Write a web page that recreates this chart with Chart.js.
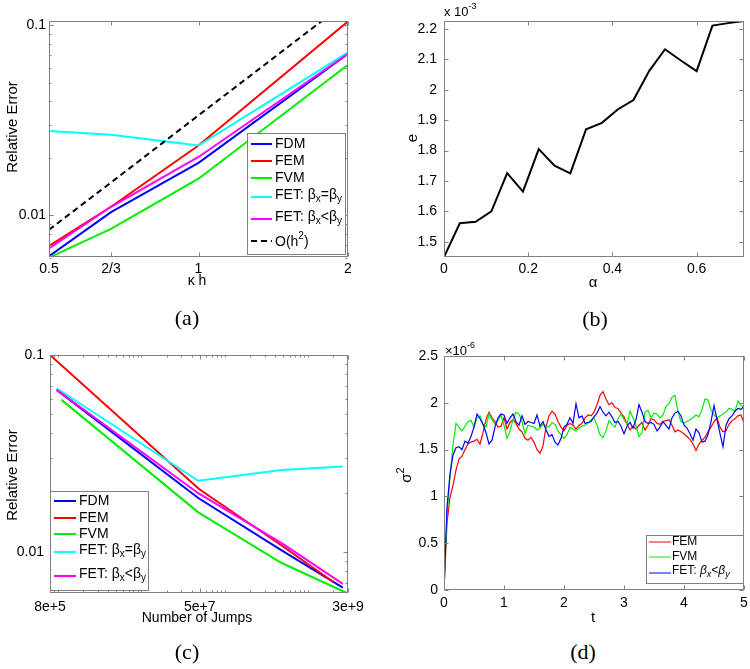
<!DOCTYPE html>
<html>
<head>
<meta charset="utf-8">
<script src="https://cdn.jsdelivr.net/npm/chart.js@4.4.1/dist/chart.umd.min.js"></script>
<style>
  body { margin: 0; background: #fff; width: 750px; height: 669px; position: relative; overflow: hidden; }
  canvas { position: absolute; }
  .cap { position: absolute; font-family: "Liberation Serif", serif; font-size: 22px; transform: translate(-50%, -50%); }
</style>
</head>
<body>
<canvas id="pa" width="375" height="300" style="left:0;top:0"></canvas>
<canvas id="pb" width="375" height="300" style="left:375px;top:0"></canvas>
<canvas id="pc" width="375" height="300" style="left:0;top:330px"></canvas>
<canvas id="pd" width="375" height="300" style="left:375px;top:330px"></canvas>
<div class="cap" style="left:187px;top:318px">(a)</div>
<div class="cap" style="left:595px;top:319px">(b)</div>
<div class="cap" style="left:187px;top:652px">(c)</div>
<div class="cap" style="left:583px;top:652px">(d)</div>
<script>
// (a) relative error vs kappa*h
const kh = [0.5, 2 / 3, 1, 2];
const khLabels = ['0.5', '2/3', '1', '2'];
const errFDMa = [0.0061, 0.0104, 0.0189, 0.0709];
const errFEMa = [0.0069, 0.0111, 0.0233, 0.1049];
const errFVMa = [0.0060, 0.0085, 0.0156, 0.0620];
const errFETeqa = [0.0278, 0.0266, 0.0233, 0.0720];
const errFETlta = [0.0067, 0.0111, 0.0203, 0.0709];
const orderH2 = [0.0084, 0.0149, 0.0336, 0.1344];
const errTicks = [0.01, 0.1];
const errLabels = ['0.01', '0.1'];

// (b) e (x1e-3) vs alpha
const alpha = [0, 0.0375, 0.075, 0.1125, 0.15, 0.1875, 0.225, 0.2625, 0.3, 0.3375,
  0.375, 0.4125, 0.45, 0.4875, 0.525, 0.5625, 0.6, 0.6375, 0.675, 0.7125];
const eAlpha = [1.450, 1.561, 1.566, 1.600, 1.726, 1.665, 1.805, 1.750, 1.725, 1.870,
  1.891, 1.935, 1.966, 2.062, 2.133, 2.096, 2.061, 2.211, 2.219, 2.226];
const alphaTicks = [0, 0.2, 0.4, 0.6];
const eTicks = [1.5, 1.6, 1.7, 1.8, 1.9, 2, 2.1, 2.2];

// (c) relative error vs number of jumps
const jumpsFDM = [9.6e5, 4.8e7, 4.8e8, 2.6e9];
const jumpsFEM = [7.8e5, 4.9e7, 4.8e8, 2.0e9];
const jumpsFVM = [1.1e6, 4.8e7, 4.8e8, 2.9e9];
const jumpsFETeq = [9.6e5, 4.8e7, 4.8e8, 2.6e9];
const jumpsFETlt = [9.6e5, 4.8e7, 4.8e8, 2.6e9];
const errFDMc = [0.0665, 0.0188, 0.0102, 0.0066];
const errFEMc = [0.101, 0.0209, 0.0108, 0.00705];
const errFVMc = [0.0592, 0.0159, 0.0088, 0.0062];
const errFETeqc = [0.0678, 0.0230, 0.0261, 0.0272];
const errFETltc = [0.0665, 0.0199, 0.0111, 0.0069];
const jumpTicks = [8e5, 5e7, 3e9];
const jumpLabels = ['8e+5', '5e+7', '3e+9'];

// (d) sigma^2 (x1e-6) vs t, sampled every 0.05
const dt = 0.05;
const sigFEM = [
  0, 0.72, 0.99, 1.12, 1.28, 1.40, 1.43, 1.50, 1.56, 1.58,
  1.59, 1.61, 1.56, 1.68, 1.82, 1.90, 1.84, 1.80, 1.74, 1.75,
  1.84, 1.72, 1.79, 1.82, 1.78, 1.72, 1.69, 1.62, 1.60, 1.63,
  1.58, 1.50, 1.46, 1.54, 1.74, 1.86, 1.91, 1.88, 1.80, 1.74,
  1.70, 1.76, 1.78, 1.76, 1.72, 1.76, 1.78, 1.84, 1.87, 1.86,
  1.90, 1.98, 2.08, 2.12, 2.04, 1.98, 2.00, 1.95, 1.94, 1.89,
  1.85, 1.77, 1.71, 1.75, 1.72, 1.76, 1.79, 1.71, 1.76, 1.83,
  1.82, 1.78, 1.77, 1.80, 1.81, 1.82, 1.76, 1.69, 1.71, 1.69,
  1.67, 1.64, 1.61, 1.56, 1.49, 1.56, 1.60, 1.63, 1.69, 1.74,
  1.80, 1.84, 1.74, 1.69, 1.70, 1.77, 1.81, 1.83, 1.86, 1.87,
  1.78];
const sigFVM = [
  0, 0.80, 1.20, 1.55, 1.78, 1.74, 1.70, 1.75, 1.80, 1.81,
  1.74, 1.84, 1.86, 1.77, 1.74, 1.88, 1.82, 1.77, 1.81, 1.87,
  1.76, 1.62, 1.70, 1.82, 1.90, 1.88, 1.80, 1.67, 1.76, 1.75,
  1.74, 1.71, 1.73, 1.77, 1.75, 1.74, 1.79, 1.77, 1.70, 1.66,
  1.62, 1.66, 1.74, 1.72, 1.70, 1.73, 1.75, 1.76, 1.78, 1.82,
  1.84, 1.76, 1.66, 1.63, 1.70, 1.81, 1.77, 1.74, 1.83, 1.88,
  1.82, 1.77, 1.91, 1.84, 1.76, 1.64, 1.68, 1.90, 1.92, 1.84,
  1.89, 1.88, 1.84, 1.87, 1.96, 1.99, 2.06, 2.08, 1.90, 1.80,
  1.78, 1.80, 1.82, 1.84, 1.87, 1.85, 1.93, 2.04, 2.03, 1.92,
  1.87, 1.84, 1.86, 1.88, 1.90, 1.94, 1.93, 1.91, 2.02, 1.97,
  1.95];
const sigFET = [
  0, 0.88, 1.24, 1.44, 1.52, 1.53, 1.50, 1.59, 1.57, 1.64,
  1.74, 1.88, 1.83, 1.77, 1.68, 1.56, 1.60, 1.74, 1.84, 1.88,
  1.87, 1.78, 1.84, 1.88, 1.80, 1.76, 1.86, 1.77, 1.80, 1.79,
  1.78, 1.87, 1.75, 1.80, 1.71, 1.64, 1.66, 1.58, 1.55, 1.62,
  1.74, 1.77, 1.84, 1.78, 1.99, 1.84, 1.86, 1.78, 1.79, 1.80,
  1.85, 1.89, 1.96, 1.90, 1.86, 1.90, 1.85, 1.79, 1.80, 1.75,
  1.67, 1.75, 1.79, 1.73, 1.82, 1.98, 1.90, 1.80, 1.78, 1.79,
  1.77, 1.70, 1.74, 1.80, 1.76, 1.72, 1.84, 1.89, 1.91, 1.86,
  1.76, 1.73, 1.67, 1.60, 1.72, 1.68, 1.58, 1.59, 1.66, 1.80,
  1.97, 1.82, 1.67, 1.53, 1.76, 1.83, 1.86, 1.91, 1.94, 1.93,
  1.96];
const tTicks = [0, 1, 2, 3, 4, 5];
const sigTicks = [0, 0.5, 1, 1.5, 2, 2.5];

const FAMILY = '"Liberation Sans", Arial, sans-serif';
const AXIS_GRAY = '#808080';

Chart.defaults.font.family = FAMILY;
Chart.defaults.font.size = 14;
Chart.defaults.color = '#000';
Chart.defaults.animation = false;
Chart.defaults.plugins.legend.display = false;
Chart.defaults.plugins.tooltip.enabled = false;
Chart.defaults.elements.point.radius = 0;
Chart.defaults.elements.line.tension = 0;

const pts = (xs, ys) => ys.map((y, i) => ({ x: xs[i], y }));
const timePts = ys => ys.map((y, i) => ({ x: i * dt, y }));

function axis(type, min, max, ticks, labels, size, pad, isX) {
  return {
    type, min, max,
    grid: { display: false, drawTicks: false }, border: { display: false },
    ticks: { autoSkip: false, maxRotation: 0, padding: pad, font: { size: 14 }, callback: (v, i) => labels[i] },
    afterBuildTicks: s => { s.ticks = ticks.map(v => ({ value: v })); },
    afterFit: s => {
      if (isX) { s.height = size; s.paddingLeft = 0; s.paddingRight = 0; }
      else { s.width = size; s.paddingTop = 0; s.paddingBottom = 0; }
    }
  };
}

// text with _x / ^x (or _{..}) sub/superscripts and $..$ italics
function segs(s) {
  const out = []; let it = false, i = 0, buf = '';
  const flush = () => { if (buf) out.push({ t: buf, m: 0, it }); buf = ''; };
  while (i < s.length) {
    const c = s[i];
    if (c === '$') { flush(); it = !it; i++; continue; }
    if (c === '_' || c === '^') {
      flush(); i++;
      let t;
      if (s[i] === '{') { const j = s.indexOf('}', i); t = s.slice(i + 1, j); i = j + 1; }
      else { t = s[i]; i++; }
      out.push({ t, m: c === '_' ? 1 : 2, it });
      continue;
    }
    buf += c; i++;
  }
  flush();
  return out;
}

function richText(ctx, s, x, y, size, align) {
  const parts = segs(s);
  const font = p => (p.it ? 'italic ' : '') + (p.m ? Math.round(size * 0.72) : size) + 'px ' + FAMILY;
  let w = 0;
  parts.forEach(p => { ctx.font = font(p); p.w = ctx.measureText(p.t).width; w += p.w; });
  let cx = align === 'center' ? x - w / 2 : align === 'right' ? x - w : x;
  ctx.textAlign = 'left';
  ctx.textBaseline = 'middle';
  parts.forEach(p => {
    ctx.font = font(p);
    const dy = p.m === 1 ? size * 0.32 : p.m === 2 ? -size * 0.42 : 0;
    ctx.fillText(p.t, cx, y + dy);
    cx += p.w;
  });
}

const extras = {};

// matlab-like boxed axes with inward ticks, legend box and labels
const matlabAxes = {
  id: 'matlabAxes',
  afterDatasetsDraw(chart) {
    const ex = extras[chart.canvas.id];
    const ctx = chart.ctx, a = chart.chartArea, xs = chart.scales.x, ys = chart.scales.y;
    const L = Math.round(a.left) + 0.5, R = Math.round(a.right) - 0.5;
    const T = Math.round(a.top) + 0.5, B = Math.round(a.bottom) - 0.5;
    ctx.save();
    ctx.strokeStyle = AXIS_GRAY;
    ctx.lineWidth = 1;
    ctx.beginPath();
    const xt = (vals, len) => vals.forEach(v => {
      const px = Math.round(xs.getPixelForValue(v)) + 0.5;
      ctx.moveTo(px, B); ctx.lineTo(px, B - len);
      ctx.moveTo(px, T); ctx.lineTo(px, T + len);
    });
    const yt = (vals, len) => vals.forEach(v => {
      const py = Math.round(ys.getPixelForValue(v)) + 0.5;
      ctx.moveTo(L, py); ctx.lineTo(L + len, py);
      ctx.moveTo(R, py); ctx.lineTo(R - len, py);
    });
    xt(xs.ticks.map(t => t.value), 4);
    yt(ys.ticks.map(t => t.value), 4);
    xt(ex.xMinor || [], 2);
    yt(ex.yMinor || [], 2);
    ctx.stroke();
    ctx.strokeRect(L, T, R - L, B - T);

    const lg = ex.legend;
    if (lg) {
      const [x1, y1, x2, y2] = lg.box;
      ctx.fillStyle = '#fff';
      ctx.fillRect(x1, y1, x2 - x1, y2 - y1);
      ctx.strokeStyle = AXIS_GRAY;
      ctx.lineWidth = 1;
      ctx.strokeRect(x1 + 0.5, y1 + 0.5, x2 - x1, y2 - y1);
      lg.items.forEach(it => {
        const ds = chart.data.datasets[it.ds];
        ctx.strokeStyle = ds.borderColor;
        ctx.lineWidth = lg.lw;
        ctx.setLineDash(ds.borderDash || []);
        ctx.beginPath();
        ctx.moveTo(lg.line[0], it.y); ctx.lineTo(lg.line[1], it.y);
        ctx.stroke();
        ctx.setLineDash([]);
        ctx.fillStyle = '#000';
        richText(ctx, ds.label, lg.tx, it.y + (it.dy || 0), lg.size, 'left');
      });
    }

    ctx.fillStyle = '#000';
    (ex.texts || []).forEach(t => {
      if (t.rot) {
        ctx.save();
        ctx.translate(t.x, t.y);
        ctx.rotate(-Math.PI / 2);
        richText(ctx, t.s, 0, 0, t.size, 'center');
        ctx.restore();
      } else {
        richText(ctx, t.s, t.x, t.y, t.size, t.align || 'center');
      }
    });
    ctx.restore();
  }
};

function logMinor(lo, hi, skip) {
  const out = [];
  for (let d = Math.pow(10, Math.floor(Math.log10(lo))); d <= hi; d *= 10) {
    for (let k = 1; k < 10; k++) {
      const v = k * d;
      if (v >= lo && v <= hi && !skip.some(s => Math.abs(s - v) / v < 1e-6)) out.push(v);
    }
  }
  return out;
}

function line(label, data, color, width, order, dash) {
  return { label, data, borderColor: color, borderWidth: width, order, borderDash: dash || [], fill: false };
}

// ---------- (a) ----------
extras.pa = {
  yMinor: logMinor(0.006, 0.106, errTicks),
  legend: {
    box: [247, 133, 345, 254], line: [251, 272], tx: 275, size: 14, lw: 2,
    items: [{ ds: 0, y: 144 }, { ds: 1, y: 161 }, { ds: 2, y: 178 },
      { ds: 3, y: 197, dy: -2 }, { ds: 4, y: 219, dy: -2 }, { ds: 5, y: 241, dy: 1 }]
  },
  texts: [
    { s: 'Relative Error', x: 13, y: 127, size: 15, rot: true },
    { s: 'κ h', x: 197, y: 281, size: 14 }
  ]
};
new Chart(document.getElementById('pa'), {
  type: 'line',
  data: {
    datasets: [
      line('FDM', pts(kh, errFDMa), '#0000ff', 2, 6),
      line('FEM', pts(kh, errFEMa), '#ff0000', 2, 5),
      line('FVM', pts(kh, errFVMa), '#00ee00', 2, 4),
      line('FET: β_x=β_y', pts(kh, errFETeqa), '#00ffff', 2, 3),
      line('FET: β_x<β_y', pts(kh, errFETlta), '#ff00ff', 2, 2),
      line('O(h^2)', pts(kh, orderH2), '#000000', 2, 1, [6, 4])
    ]
  },
  options: {
    responsive: false, devicePixelRatio: 1,
    layout: { padding: { left: 0, top: 21, right: 27, bottom: 0 } },
    scales: {
      x: axis('logarithmic', 0.5, 2, kh, khLabels, 43, 4, true),
      y: axis('logarithmic', 0.00604, 0.1054, errTicks, errLabels, 49, 3, false)
    }
  },
  plugins: [matlabAxes]
});

// ---------- (b) ----------
extras.pb = {
  texts: [
    { s: 'e', x: 38, y: 138, size: 15, rot: true },
    { s: 'α', x: 218, y: 283, size: 15 },
    { s: 'x 10^{-3}', x: 69, y: 12, size: 13, align: 'left' }
  ]
};
new Chart(document.getElementById('pb'), {
  type: 'line',
  data: { datasets: [line('e', pts(alpha, eAlpha), '#000000', 2, 1)] },
  options: {
    responsive: false, devicePixelRatio: 1,
    layout: { padding: { left: 0, top: 21, right: 6, bottom: 0 } },
    scales: {
      x: axis('linear', 0, 0.7125, alphaTicks, ['0', '0.2', '0.4', '0.6'], 43, 4, true),
      y: axis('linear', 1.450, 2.226, eTicks, ['1.5', '1.6', '1.7', '1.8', '1.9', '2', '2.1', '2.2'], 69, 7, false)
    }
  },
  plugins: [matlabAxes]
});

// ---------- (c) ----------
extras.pc = {
  xMinor: logMinor(8e5, 3e9, jumpTicks),
  yMinor: logMinor(0.0062, 0.1, errTicks),
  legend: {
    box: [50, 161, 148, 260], line: [54, 76], tx: 79, size: 14, lw: 2,
    items: [{ ds: 0, y: 171 }, { ds: 1, y: 188 }, { ds: 2, y: 204 },
      { ds: 3, y: 222, dy: -2 }, { ds: 4, y: 246, dy: -2 }]
  },
  texts: [
    { s: 'Relative Error', x: 13, y: 145, size: 15, rot: true },
    { s: 'Number of Jumps', x: 197, y: 288, size: 14 }
  ]
};
new Chart(document.getElementById('pc'), {
  type: 'line',
  data: {
    datasets: [
      line('FDM', pts(jumpsFDM, errFDMc), '#0000ff', 2, 5),
      line('FEM', pts(jumpsFEM, errFEMc), '#ff0000', 2, 4),
      line('FVM', pts(jumpsFVM, errFVMc), '#00ee00', 2, 3),
      line('FET: β_x=β_y', pts(jumpsFETeq, errFETeqc), '#00ffff', 2, 2),
      line('FET: β_x<β_y', pts(jumpsFETlt, errFETltc), '#ff00ff', 2, 1)
    ]
  },
  options: {
    responsive: false, devicePixelRatio: 1,
    layout: { padding: { left: 0, top: 25, right: 27, bottom: 0 } },
    scales: {
      x: axis('logarithmic', 8e5, 3e9, jumpTicks, jumpLabels, 37, 6, true),
      y: axis('logarithmic', 0.0062, 0.1, errTicks, errLabels, 50, 6, false)
    }
  },
  plugins: [matlabAxes]
});

// ---------- (d) ----------
extras.pd = {
  legend: {
    box: [271, 205, 368, 253], line: [274, 296], tx: 297, size: 12, lw: 1,
    items: [{ ds: 0, y: 212 }, { ds: 1, y: 227 }, { ds: 2, y: 243, dy: -2 }]
  },
  texts: [
    { s: 'σ^2', x: 32, y: 145, size: 15, rot: true },
    { s: 't', x: 218, y: 288, size: 15 },
    { s: '×10^{-6}', x: 70, y: 21, size: 13, align: 'left' }
  ]
};
new Chart(document.getElementById('pd'), {
  type: 'line',
  data: {
    datasets: [
      line('FEM', timePts(sigFEM), '#ff0000', 1.2, 3),
      line('FVM', timePts(sigFVM), '#00ee00', 1.2, 2),
      line('FET: $β_x<β_y$', timePts(sigFET), '#0000ff', 1.2, 1)
    ]
  },
  options: {
    responsive: false, devicePixelRatio: 1,
    layout: { padding: { left: 0, top: 26, right: 6, bottom: 0 } },
    scales: {
      x: axis('linear', 0, 5, tTicks, ['0', '1', '2', '3', '4', '5'], 40, 5, true),
      y: axis('linear', 0, 2.5, sigTicks, ['0', '0.5', '1', '1.5', '2', '2.5'], 69, 6, false)
    }
  },
  plugins: [matlabAxes]
});
</script>
</body>
</html>
